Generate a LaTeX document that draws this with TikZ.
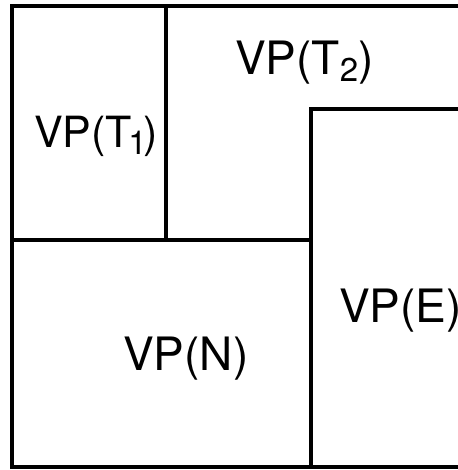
\documentclass[tikz,border=0pt]{standalone}
\usepackage{fontspec}
\setmainfont{TeX Gyre Heros}
\newcommand{\vpsub}[1]{\raisebox{-7pt}{\fontsize{33}{33}\selectfont #1}}
\tikzset{
  wall/.style={line width=3.4pt, line cap=rect},
  vplabel/.style={anchor=base west, inner sep=0pt, font=\fontsize{46}{50}\selectfont}
}
\begin{document}
\begin{tikzpicture}[x=1pt, y=-1pt]
    \useasboundingbox (0,0) rectangle (457,470);
    % 外枠（右側は切れている）
    \draw[wall] (457,6) -- (12,6) -- (12,467) -- (457,467);
    % T1 と T2 の境界
    \draw[wall] (166,6) -- (166,240);
    \draw[wall] (12,240) -- (311,240);
    % E の領域
    \draw[wall] (457,109) -- (311,109) -- (311,467);
    % ラベル
    \node[vplabel, font=\fontsize{43}{48}\selectfont] (t1) at (34,148)
      {VP(T\vpsub{\makebox[11pt][c]{1}})};
    \node[vplabel] (t2) at (235,75) {VP(T\vpsub{2})};
    \node[vplabel] (n) at (123,370) {VP(N)};
    \node[vplabel] (e) at (339,322) {VP(E)};
\end{tikzpicture}
\end{document}
